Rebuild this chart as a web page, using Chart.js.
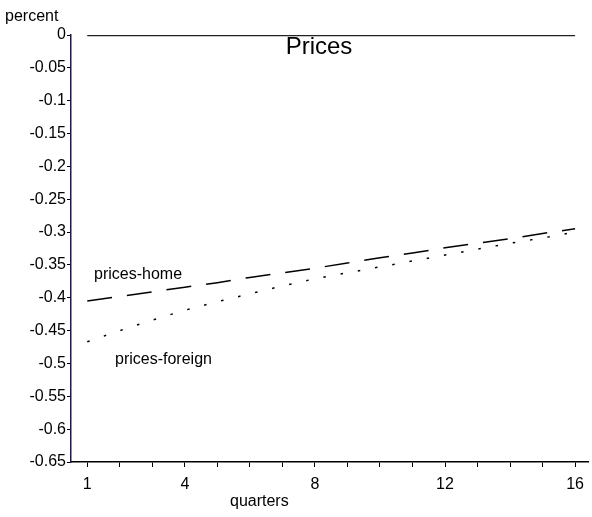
<!DOCTYPE html>
<html>
<head>
<meta charset="utf-8">
<script src="https://cdn.jsdelivr.net/npm/chart.js@4"></script>
<style>
  body { margin: 0; background: #fff; }
  #wrap { width: 592px; height: 517px; }
</style>
</head>
<body>
<div id="wrap"><canvas id="grafico" width="592" height="517"></canvas></div>
<script>
// quarters 1..16
const quarters = [1,2,3,4,5,6,7,8,9,10,11,12,13,14,15,16];
const quarterLabels = [1,4,8,12,16];
const pricesHome = [-0.405,-0.398,-0.391,-0.384,-0.377,-0.369,-0.362,-0.355,-0.347,-0.339,-0.332,-0.324,-0.317,-0.310,-0.302,-0.295];
const pricesForeign = [-0.467,-0.450,-0.434,-0.419,-0.406,-0.394,-0.382,-0.371,-0.362,-0.353,-0.344,-0.335,-0.326,-0.317,-0.309,-0.300];
const zeroLine = [0,0,0,0,0,0,0,0,0,0,0,0,0,0,0,0];
const yTicks = [0,-0.05,-0.1,-0.15,-0.2,-0.25,-0.3,-0.35,-0.4,-0.45,-0.5,-0.55,-0.6,-0.65];

const fonte = 'Liberation Sans, Arial, sans-serif';

function pontos(vals){
  return quarters.map((q, i) => ({x: q, y: vals[i]}));
}

// textos soltos: titulo, nomes das series, eixos
const textos = {
  id: 'textos',
  afterDraw(chart){
    const c = chart.ctx;
    c.save();
    c.fillStyle = '#000';
    c.textBaseline = 'middle';
    c.font = '16px ' + fonte;
    c.textAlign = 'left';
    c.fillText('percent', 5, 17);
    c.fillText('prices-home', 94, 275);
    c.fillText('prices-foreign', 115, 360);
    c.fillText('quarters', 230, 502);
    c.font = '24px ' + fonte;
    c.textAlign = 'center';
    c.fillText('Prices', 319, 47);
    c.restore();
  }
};

const ctx = document.getElementById('grafico');
new Chart(ctx, {
  type: 'line',
  data: {
    datasets: [{
      label: 'zero',
      data: pontos(zeroLine),
      borderColor: '#222',
      borderWidth: 2.5,
      pointRadius: 0
    },{
      label: 'prices-home',
      data: pontos(pricesHome),
      borderColor: '#000',
      borderWidth: 1.5,
      borderDash: [25, 15],
      pointRadius: 0
    },{
      label: 'prices-foreign',
      data: pontos(pricesForeign),
      borderColor: '#000',
      borderWidth: 1.5,
      borderDash: [2.5, 15],
      pointRadius: 0
    }]
  },
  options: {
    responsive: false,
    animation: false,
    layout: { padding: { top: 35, right: 0, left: 0, bottom: 0 } },
    plugins: { legend: { display: false }, tooltip: { enabled: false } },
    scales: {
      x: {
        type: 'linear',
        min: 0.5,
        max: 16.4,
        afterBuildTicks: axis => { axis.ticks = quarters.map(v => ({value: v})); },
        afterFit: axis => { axis.height = 55; },
        border: { color: '#000', width: 1.5 },
        grid: { drawOnChartArea: false, drawTicks: true, tickLength: 5, color: '#000' },
        ticks: {
          autoSkip: false,
          maxRotation: 0,
          padding: 8,
          color: '#000',
          font: { family: fonte, size: 16 },
          callback: v => quarterLabels.includes(v) ? String(v) : ''
        }
      },
      y: {
        min: -0.65,
        max: 0,
        afterBuildTicks: axis => { axis.ticks = yTicks.map(v => ({value: v})); },
        afterFit: axis => { axis.width = 71; },
        border: { color: '#1a1a50', width: 1.5 },
        grid: { drawOnChartArea: false, drawTicks: true, tickLength: 4, color: '#000' },
        ticks: {
          padding: 1,
          color: '#000',
          font: { family: fonte, size: 16 },
          callback: v => String(parseFloat(v.toFixed(2)))
        }
      }
    }
  },
  plugins: [textos]
});
</script>
</body>
</html>
